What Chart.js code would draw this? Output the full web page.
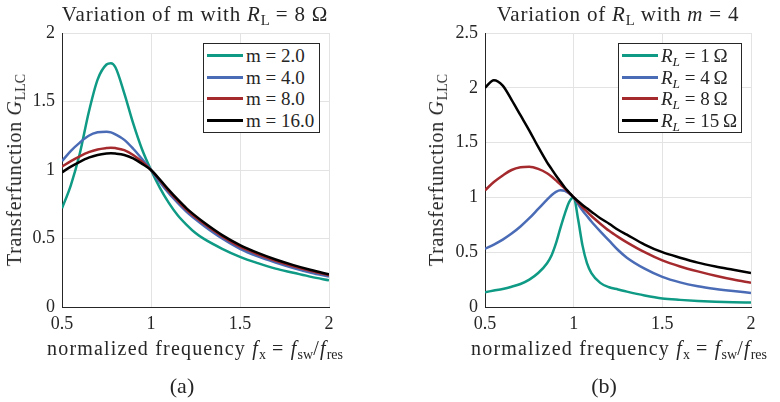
<!doctype html>
<html lang="en">
<head>
<meta charset="UTF-8" />
<title>LLC transfer function</title>
<script src="https://cdn.jsdelivr.net/npm/chart.js"></script>
<style>
  body { margin: 0; width: 780px; height: 402px; position: relative; background: #fff;
         font-family: "Liberation Serif", "Times New Roman", Tinos, "DejaVu Serif", serif; color: #262626; overflow: hidden; }
  .panel { position: absolute; top: 0; width: 390px; height: 402px; }
  .panel canvas { position: absolute; left: 0; top: 0; }
  .title, .xlab, .cap { position: absolute; white-space: nowrap; transform: translateX(-50%); }
  .title { top: 2px; font-size: 21px; line-height: 24px; letter-spacing: 0.8px; }
  .xlab { top: 336px; font-size: 20px; line-height: 24px; letter-spacing: 1.2px; }
  .cap { top: 373px; font-size: 22px; line-height: 26px; }
  .ylab { position: absolute; top: 170px; font-size: 20px; line-height: 24px; letter-spacing: 0.7px; white-space: nowrap;
          transform: translate(-50%, -50%) rotate(-90deg); }
  .legend { position: absolute; top: 43px; border: 1px solid #262626; background: #fff; padding: 1px 0; font-size: 19px; }
  .legend .row { height: 21.5px; line-height: 21.5px; white-space: nowrap; display: flex; align-items: center; }
  .legend .swatch { display: inline-block; width: 36px; height: 3px; margin: 0 3px 0 3px; flex: none; }
  sub { font-size: 70%; vertical-align: -0.3em; line-height: 0; font-style: normal; letter-spacing: 0; }
</style>
</head>
<body>
<div class="panel" style="left:0">
  <canvas id="chartA" width="390" height="402"></canvas>
  <div class="title" style="left:195px">Variation of m with <i>R</i><sub>L</sub> = 8 Ω</div>
  <div class="ylab" style="left:14px">Transferfunction <i>G</i><sub>LLC</sub></div>
  <div class="xlab" style="left:195px">normalized frequency <i>f</i><sub>x</sub> = <i>f</i><sub>sw</sub>/<i>f</i><sub>res</sub></div>
  <div class="cap" style="left:182px">(a)</div>
  <div class="legend" id="legendA" style="left:203px; width:115px"></div>
</div>
<div class="panel" style="left:390px">
  <canvas id="chartB" width="390" height="402"></canvas>
  <div class="title" style="left:228px">Variation of <i>R</i><sub>L</sub> with <i>m</i> = 4</div>
  <div class="ylab" style="left:46px">Transferfunction <i>G</i><sub>LLC</sub></div>
  <div class="xlab" style="left:229px">normalized frequency <i>f</i><sub>x</sub> = <i>f</i><sub>sw</sub>/<i>f</i><sub>res</sub></div>
  <div class="cap" style="left:214px">(b)</div>
  <div class="legend" id="legendB" style="left:228px; width:122px"></div>
</div>

<script>
  // (a) variation of m, R_L = 8 ohm
  const freqA = [0.5, 0.55, 0.6, 0.65, 0.7, 0.75, 0.775, 0.8, 0.85, 0.9, 0.95, 1,
                 1.05, 1.1, 1.15, 1.2, 1.25, 1.3, 1.4, 1.5, 1.6, 1.7, 1.8, 1.9, 2];
  const gainM2  = [0.72, 0.89, 1.12, 1.42, 1.66, 1.77, 1.78, 1.75, 1.56, 1.34, 1.15, 1.0,
                   0.87, 0.76, 0.67, 0.6, 0.54, 0.495, 0.425, 0.366, 0.32, 0.28, 0.25, 0.22, 0.195];
  const gainM4  = [1.065, 1.14, 1.2, 1.25, 1.275, 1.28, 1.275, 1.26, 1.22, 1.155, 1.08, 1.0,
                   0.91, 0.83, 0.76, 0.695, 0.64, 0.59, 0.5, 0.425, 0.37, 0.325, 0.285, 0.25, 0.222];
  const gainM8  = [1.024, 1.065, 1.1, 1.13, 1.15, 1.16, 1.163, 1.16, 1.145, 1.11, 1.06, 1.0,
                   0.925, 0.845, 0.775, 0.71, 0.655, 0.605, 0.515, 0.44, 0.385, 0.338, 0.298, 0.263, 0.232];
  const gainM16 = [0.983, 1.025, 1.06, 1.09, 1.11, 1.12, 1.122, 1.12, 1.11, 1.085, 1.045, 1.0,
                   0.93, 0.855, 0.785, 0.72, 0.665, 0.615, 0.525, 0.452, 0.395, 0.347, 0.306, 0.27, 0.238];
  const labelsA = ["m = 2.0", "m = 4.0", "m = 8.0", "m = 16.0"];

  // (b) variation of R_L, m = 4
  const freqB = [0.5, 0.55, 0.6, 0.65, 0.7, 0.75, 0.8, 0.85, 0.875, 0.9, 0.925, 0.95, 0.975, 1,
                 1.025, 1.05, 1.075, 1.1, 1.15, 1.2, 1.25, 1.3, 1.4, 1.5, 1.6, 1.7, 1.8, 1.9, 2];
  const gainR1  = [0.135, 0.15, 0.165, 0.185, 0.21, 0.25, 0.31, 0.4, 0.47, 0.58, 0.72, 0.85, 0.96, 1.0,
                   0.8, 0.56, 0.4, 0.31, 0.22, 0.18, 0.16, 0.14, 0.105, 0.078, 0.065, 0.055, 0.048, 0.043, 0.04];
  const gainR4  = [0.53, 0.57, 0.615, 0.67, 0.735, 0.81, 0.895, 0.98, 1.02, 1.05, 1.065, 1.06, 1.035, 1.0,
                   0.94, 0.88, 0.83, 0.78, 0.69, 0.605, 0.52, 0.45, 0.35, 0.275, 0.225, 0.19, 0.165, 0.145, 0.128];
  const gainR8  = [1.065, 1.14, 1.2, 1.25, 1.275, 1.28, 1.26, 1.22, 1.19, 1.155, 1.12, 1.08, 1.04, 1.0,
                   0.955, 0.91, 0.87, 0.83, 0.76, 0.695, 0.64, 0.59, 0.5, 0.425, 0.37, 0.325, 0.285, 0.25, 0.222];
  const gainR15 = [2.0, 2.07, 2.02, 1.89, 1.75, 1.61, 1.46, 1.32, 1.26, 1.2, 1.145, 1.09, 1.045, 1.0,
                   0.965, 0.93, 0.9, 0.87, 0.81, 0.76, 0.705, 0.66, 0.57, 0.5, 0.45, 0.405, 0.37, 0.34, 0.31];
  const labelsB = ["<i>R</i><sub><i>L</i></sub> = 1&thinsp;Ω", "<i>R</i><sub><i>L</i></sub> = 4&thinsp;Ω",
                   "<i>R</i><sub><i>L</i></sub> = 8&thinsp;Ω", "<i>R</i><sub><i>L</i></sub> = 15&thinsp;Ω"];

  const colors = ["#0e9a84", "#4a6bb5", "#a52a2e", "#000000"];
  const tickFont = { family: "'Liberation Serif', 'Times New Roman', Tinos, 'DejaVu Serif', serif", size: 18 };

  function makeChart(id, xs, series, yMax, plotLeft, padRight) {
    return new Chart(document.getElementById(id), {
      type: "line",
      data: {
        datasets: series.map((ys, i) => ({
          data: xs.map((x, j) => ({ x: x, y: ys[j] })),
          borderColor: colors[i],
          borderWidth: 2.5,
          pointRadius: 0,
          cubicInterpolationMode: "monotone",
          order: series.length - i,
        })),
      },
      options: {
        responsive: false,
        animation: false,
        layout: { padding: { top: 33, right: padRight, left: 0, bottom: 0 } },
        plugins: { legend: { display: false }, tooltip: { enabled: false } },
        scales: {
          x: {
            type: "linear", min: 0.5, max: 2,
            ticks: { stepSize: 0.5, font: tickFont, color: "#262626", padding: 6, callback: (v) => String(v) },
            grid: { color: "#e3e3e3", drawTicks: false },
            border: { color: "#262626" },
            afterFit: (s) => { s.height = 95; },
          },
          y: {
            min: 0, max: yMax,
            ticks: { stepSize: 0.5, font: tickFont, color: "#262626", padding: 7, callback: (v) => String(v) },
            grid: { color: "#e3e3e3", drawTicks: false },
            border: { color: "#262626" },
            afterFit: (s) => { s.width = plotLeft; },
          },
        },
      },
    });
  }

  function makeLegend(id, labels) {
    document.getElementById(id).innerHTML = labels
      .map((t, i) => `<div class="row"><span class="swatch" style="background:${colors[i]}"></span><span>${t}</span></div>`)
      .join("");
  }

  makeChart("chartA", freqA, [gainM2, gainM4, gainM8, gainM16], 2, 62, 61);
  makeChart("chartB", freqB, [gainR1, gainR4, gainR8, gainR15], 2.5, 95, 29);
  makeLegend("legendA", labelsA);
  makeLegend("legendB", labelsB);
</script>
</body>
</html>
